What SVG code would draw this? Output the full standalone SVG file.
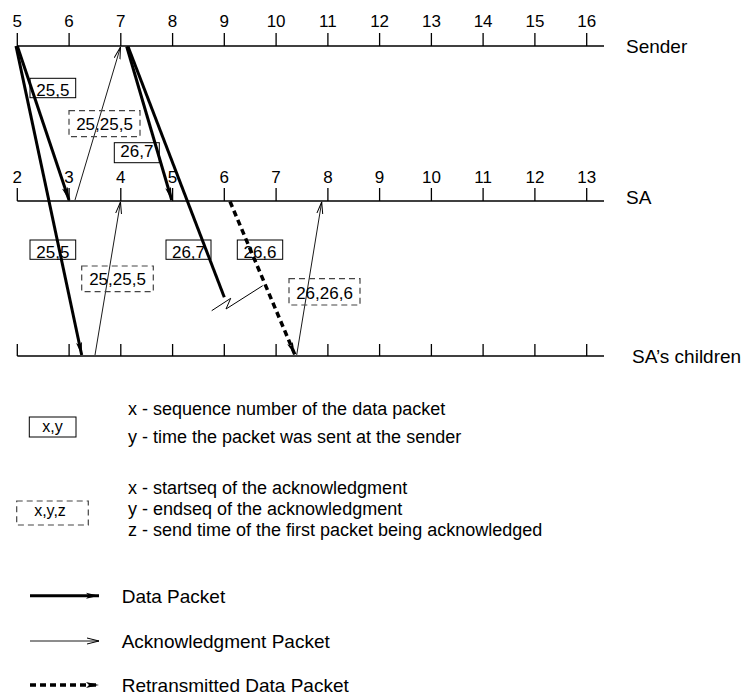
<svg xmlns="http://www.w3.org/2000/svg" width="746" height="695" viewBox="0 0 746 695">
<defs>
<style>
.ax{stroke:#000;stroke-width:1.3;fill:none}
.t{font-family:"Liberation Sans",Arial,Helvetica,sans-serif;fill:#000}
.num{font-size:17px;text-anchor:middle}
.lbl{font-size:19px}
.bx{font-size:17px;text-anchor:middle}
.leg{font-size:18px}
.leg2{font-size:19px}
.data{stroke:#000;stroke-width:3;fill:none;marker-end:url(#dh)}
.lost{stroke:#000;stroke-width:3;fill:none}
.ack{stroke:#000;stroke-width:0.9;fill:none;marker-end:url(#ah)}
.retx{stroke:#000;stroke-width:3.5;fill:none;stroke-dasharray:6 4;marker-end:url(#dh)}
.sbox{fill:none;stroke:#000;stroke-width:1}
.dbox{fill:none;stroke:#444;stroke-width:1.2;stroke-dasharray:6 4}
</style>
<marker id="dh" markerUnits="userSpaceOnUse" markerWidth="14" markerHeight="8" refX="13" refY="4" orient="auto">
<path d="M0,1 L13,4 L0,7 L3,4 z" fill="#000"/>
</marker>
<marker id="ah" markerUnits="userSpaceOnUse" markerWidth="14" markerHeight="8" refX="12" refY="4" orient="auto">
<path d="M0,1 L12,4 L0,7" fill="none" stroke="#000" stroke-width="1"/>
</marker>
</defs>

<g id="sender-axis">
<line class="ax" x1="17.3" y1="46" x2="604" y2="46"/>
<path class="ax" d="M17.3,33V46M69.1,33V46M120.8,33V46M172.6,33V46M224.3,33V46M276.1,33V46M327.9,33V46M379.6,33V46M431.4,33V46M483.1,33V46M534.9,33V46M586.7,33V46"/>
<g class="t num">
<text x="17.3" y="27">5</text><text x="69.1" y="27">6</text><text x="120.8" y="27">7</text><text x="172.6" y="27">8</text><text x="224.3" y="27">9</text><text x="276.1" y="27">10</text><text x="327.9" y="27">11</text><text x="379.6" y="27">12</text><text x="431.4" y="27">13</text><text x="483.1" y="27">14</text><text x="534.9" y="27">15</text><text x="586.7" y="27">16</text>
</g>
<text class="t lbl" x="626" y="53">Sender</text>
</g>

<g id="sa-axis">
<line class="ax" x1="17.3" y1="201" x2="604" y2="201"/>
<path class="ax" d="M17.3,188V201M69.1,188V201M120.8,188V201M172.6,188V201M224.3,188V201M276.1,188V201M327.9,188V201M379.6,188V201M431.4,188V201M483.1,188V201M534.9,188V201M586.7,188V201"/>
<g class="t num">
<text x="17.3" y="183">2</text><text x="69.1" y="183">3</text><text x="120.8" y="183">4</text><text x="172.6" y="183">5</text><text x="224.3" y="183">6</text><text x="276.1" y="183">7</text><text x="327.9" y="183">8</text><text x="379.6" y="183">9</text><text x="431.4" y="183">10</text><text x="483.1" y="183">11</text><text x="534.9" y="183">12</text><text x="586.7" y="183">13</text>
</g>
<text class="t lbl" x="626" y="204">SA</text>
</g>

<g id="children-axis">
<line class="ax" x1="17.3" y1="356" x2="604" y2="356"/>
<path class="ax" d="M17.3,344V356M69.1,344V356M120.8,344V356M172.6,344V356M224.3,344V356M276.1,344V356M327.9,344V356M379.6,344V356M431.4,344V356M483.1,344V356M534.9,344V356M586.7,344V356"/>
<text class="t lbl" x="632" y="363">SA’s children</text>
</g>

<g id="connectors">
<line class="data" x1="17.3" y1="46" x2="69" y2="200"/>
<line class="data" x1="16" y1="46" x2="81.7" y2="355"/>
<line class="ack" x1="75" y1="200" x2="120.5" y2="47"/>
<line class="ack" x1="95" y1="355" x2="120.5" y2="202"/>
<line class="data" x1="126.7" y1="46.5" x2="171.7" y2="200"/>
<line class="lost" x1="128" y1="46.5" x2="224.3" y2="297.3"/>
<polyline fill="none" stroke="#000" stroke-width="1" points="211.7,310.7 230.7,298.3 226,309 262.7,285.7"/>
<line class="retx" x1="230" y1="201.5" x2="295" y2="355"/>
<line class="ack" x1="296.7" y1="355" x2="321.7" y2="202"/>
</g>

<g id="label-25-5-top"><rect class="sbox" x="30" y="78.3" width="45.7" height="19.4"/><text class="t bx" x="52.9" y="95.5">25,5</text></g>
<g id="label-25-25-5-top"><rect class="dbox" x="69" y="110.7" width="71" height="26"/><text class="t bx" x="104.5" y="129.5">25,25,5</text></g>
<g id="label-26-7-top"><rect class="sbox" x="114.3" y="142.7" width="45" height="20"/><text class="t bx" x="136.8" y="157">26,7</text></g>
<g id="label-25-5-low"><rect class="sbox" x="30" y="240" width="45.7" height="19.3"/><text class="t bx" x="52.9" y="257.5">25,5</text></g>
<g id="label-25-25-5-low"><rect class="dbox" x="81.7" y="266" width="71.6" height="25.7"/><text class="t bx" x="117.5" y="285">25,25,5</text></g>
<g id="label-26-7-low"><rect class="sbox" x="166" y="240" width="45" height="19.3"/><text class="t bx" x="188.5" y="257.5">26,7</text></g>
<g id="label-26-6"><rect class="sbox" x="237.3" y="240" width="45.4" height="19.3"/><text class="t bx" x="260" y="257.5">26,6</text></g>
<g id="label-26-26-6"><rect class="dbox" x="289" y="278.7" width="71" height="26.3"/><text class="t bx" x="324.5" y="299">26,26,6</text></g>

<g id="legend-data-box">
<rect class="sbox" x="29.3" y="417" width="46.7" height="20"/>
<text class="t" x="52.6" y="432" text-anchor="middle" font-size="16">x,y</text>
<text class="t leg" x="128" y="415">x - sequence number of the data packet</text>
<text class="t leg" x="128" y="443">y - time the packet was sent at the sender</text>
</g>
<g id="legend-ack-box">
<rect class="dbox" x="16.7" y="501" width="71.6" height="24"/>
<text class="t" x="50" y="516" text-anchor="middle" font-size="16">x,y,z</text>
<text class="t leg" x="128" y="494">x - startseq of the acknowledgment</text>
<text class="t leg" x="128" y="515">y - endseq of the acknowledgment</text>
<text class="t leg" x="128" y="536">z - send time of the first packet being acknowledged</text>
</g>
<g id="legend-lines">
<line class="data" x1="30" y1="595.7" x2="99" y2="595.7"/>
<text class="t leg2" x="121.7" y="602.5">Data Packet</text>
<line class="ack" x1="30" y1="641" x2="99" y2="641"/>
<text class="t leg2" x="121.7" y="647.5">Acknowledgment Packet</text>
<line class="retx" x1="30" y1="685" x2="99" y2="685"/>
<text class="t leg2" x="121.7" y="692">Retransmitted Data Packet</text>
</g>
</svg>
